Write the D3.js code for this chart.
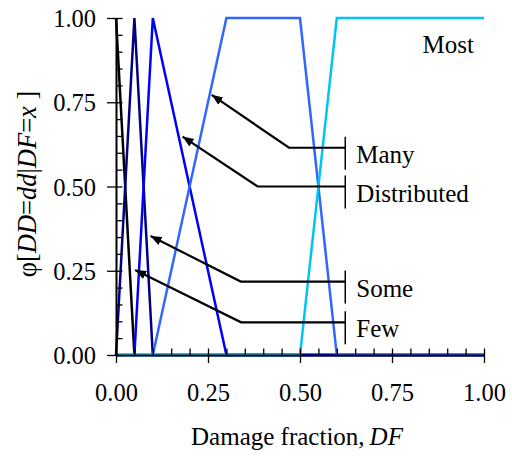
<!DOCTYPE html>
<html>
<head>
<meta charset="utf-8">
<script src="https://cdn.jsdelivr.net/npm/d3@7"></script>
<style>
  body { margin: 0; background: #fff; }
  svg text { font-family: "Liberation Serif", Tinos, "Times New Roman", Times, "DejaVu Serif", serif; fill: #000; }
</style>
</head>
<body>
<script>
var width = 512;
var height = 456;

// membership functions, damage fraction vs phi
var fewDF = [0, 0.05, 1];
var fewPhi = [1, 0, 0];
var someDF = [0, 0.05, 0.1, 1];
var somePhi = [0, 1, 0, 0];
var distDF = [0, 0.05, 0.1, 0.3, 1];
var distPhi = [0, 0, 1, 0, 0];
var manyDF = [0, 0.1, 0.3, 0.5, 0.6, 1];
var manyPhi = [0, 0, 1, 1, 0, 0];
var mostDF = [0, 0.5, 0.6, 1];
var mostPhi = [0, 0, 1, 1];

var seriesNames = ["Few", "Some", "Distributed", "Many", "Most"];
var seriesColors = ["#000000", "#000080", "#0000ff", "#3366ff", "#00c4f4"];

var xTicks = [0, 0.25, 0.5, 0.75, 1];
var yTicks = [0, 0.25, 0.5, 0.75, 1];
var minorTicks = d3.range(0, 21).map(function(i) { return i / 20; });

// callout labels (data units)
var calloutLabels = ["Many", "Distributed", "Some", "Few"];
var tipDF = [0.26, 0.181, 0.094, 0.052];
var tipPhi = [0.772, 0.648, 0.353, 0.252];
var elbowDF = [0.47, 0.385, 0.339, 0.34];
var elbowPhi = [0.615, 0.5, 0.218, 0.097];
var barDF = 0.623;

var serif = "'Liberation Serif', Tinos, 'Times New Roman', Times, 'DejaVu Serif', serif";

var xScale = d3.scaleLinear().domain([0, 1]).range([116, 484]);
var yScale = d3.scaleLinear().domain([0, 1]).range([355, 18]);

var svg = d3.select("body").append("svg")
  .attr("width", width)
  .attr("height", height)
  .attr("font-family", serif);

svg.append("defs").append("marker")
  .attr("id", "arrow")
  .attr("viewBox", "0 0 10 10")
  .attr("refX", 10).attr("refY", 5)
  .attr("markerWidth", 5).attr("markerHeight", 5)
  .attr("markerUnits", "strokeWidth")
  .attr("orient", "auto")
  .append("path")
  .attr("d", "M0,1 L10,5 L0,9 z")
  .attr("fill", "#000");

// series lines
var line = d3.line()
  .x(function(d) { return xScale(d[0]); })
  .y(function(d) { return yScale(d[1]); });

var allSeries = [
  d3.zip(fewDF, fewPhi),
  d3.zip(someDF, somePhi),
  d3.zip(distDF, distPhi),
  d3.zip(manyDF, manyPhi),
  d3.zip(mostDF, mostPhi)
];

svg.selectAll(".series")
  .data(allSeries)
  .enter()
  .append("path")
  .attr("class", "series")
  .attr("d", line)
  .attr("fill", "none")
  .attr("stroke", function(d, i) { return seriesColors[i]; })
  .attr("stroke-width", 2.5);

// axes: labels + outer major ticks
var xAxis = d3.axisBottom(xScale).tickValues(xTicks).tickFormat(d3.format(".2f"))
  .tickSizeInner(8).tickSizeOuter(0).tickPadding(21);
var yAxis = d3.axisLeft(yScale).tickValues(yTicks).tickFormat(d3.format(".2f"))
  .tickSizeInner(9).tickSizeOuter(0).tickPadding(11);

var gx = svg.append("g").attr("transform", "translate(0," + yScale(0) + ")").call(xAxis);
var gy = svg.append("g").attr("transform", "translate(" + xScale(0) + ",0)").call(yAxis);

// inner minor ticks
svg.append("g").attr("transform", "translate(0," + yScale(0) + ")")
  .call(d3.axisBottom(xScale).tickValues(minorTicks).tickSize(-6.5).tickFormat("").tickSizeOuter(0));
svg.append("g").attr("transform", "translate(" + xScale(0) + ",0)")
  .call(d3.axisLeft(yScale).tickValues(minorTicks).tickSize(-6.5).tickFormat("").tickSizeOuter(0));

svg.selectAll("g").attr("font-family", serif);
svg.selectAll(".domain").attr("stroke", "#000").attr("stroke-width", 1.6);
svg.selectAll(".tick line").attr("stroke", "#000").attr("stroke-width", 1.3);
svg.selectAll(".tick text")
  .style("font-family", serif)
  .style("font-size", "24.5px")
  .attr("fill", "#000");
gx.selectAll(".tick text").attr("dy", "0.71em");
gy.selectAll(".tick text").attr("dy", "0.35em");

// callouts
calloutLabels.forEach(function(lab, i) {
  var yl = yScale(elbowPhi[i]);
  var pts = [
    [xScale(barDF), yl],
    [xScale(elbowDF[i]), yl],
    [xScale(tipDF[i]), yScale(tipPhi[i])]
  ];
  svg.append("path")
    .attr("d", d3.line()(pts))
    .attr("fill", "none")
    .attr("stroke", "#000")
    .attr("stroke-width", 2.2)
    .attr("marker-end", "url(#arrow)");
  svg.append("line")
    .attr("x1", xScale(barDF)).attr("x2", xScale(barDF))
    .attr("y1", yl - 11).attr("y2", yl + 22)
    .attr("stroke", "#000").attr("stroke-width", 1.5);
  svg.append("text")
    .attr("x", xScale(barDF) + 11)
    .attr("y", yl + 15)
    .style("font-family", serif)
    .style("font-size", "25px")
    .text(lab);
});

svg.append("text")
  .attr("x", xScale(0.833))
  .attr("y", yScale(0.897))
  .style("font-family", serif)
  .style("font-size", "25px")
  .text("Most");

// axis titles
var xt = svg.append("text")
  .attr("x", 297).attr("y", 445)
  .attr("text-anchor", "middle")
  .style("font-family", serif)
  .style("font-size", "25px");
xt.append("tspan").text("Damage fraction,\u2009");
xt.append("tspan").style("font-style", "italic").text("DF");

var yt = svg.append("text")
  .attr("transform", "translate(36,184) rotate(-90)")
  .attr("text-anchor", "middle")
  .style("font-family", serif)
  .style("font-size", "26.5px");
[["φ[", false], ["DD", true], ["=", false], ["dd", true], ["|", false],
 ["DF", true], ["=", false], ["x", true], [" ]", false]].forEach(function(p) {
  yt.append("tspan").style("font-style", p[1] ? "italic" : "normal").text(p[0]);
});
</script>
</body>
</html>
